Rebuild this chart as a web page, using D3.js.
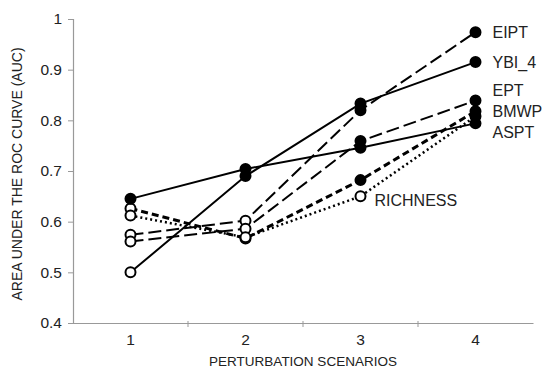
<!DOCTYPE html>
<html><head><meta charset="utf-8">
<script src="https://cdn.jsdelivr.net/npm/d3@7"></script>
<style>body{margin:0;background:#fff}</style>
</head><body><svg id="c" width="545" height="376"></svg>
<script>
const scenarios = ["1","2","3","4"];
const yTicks = [0.4,0.5,0.6,0.7,0.8,0.9,1];
const yTickLabels = ["0.4","0.5","0.6","0.7","0.8","0.9","1"];
const seriesNames = ["EIPT","YBI_4","EPT","BMWP","ASPT","RICHNESS"];
const EIPT     = [0.574,0.602,0.820,0.974];
const YBI_4    = [0.500,0.690,0.833,0.915];
const EPT      = [0.561,0.586,0.759,0.839];
const BMWP     = [0.626,0.567,0.682,0.818];
const ASPT     = [0.645,0.704,0.746,0.794];
const RICHNESS = [0.612,0.569,0.650,0.808];
// filled (1) or open (0) markers
const EIPT_f     = [0,0,1,1];
const YBI_4_f    = [0,1,1,1];
const EPT_f      = [0,0,1,1];
const BMWP_f     = [0,0,1,1];
const ASPT_f     = [1,1,1,1];
const RICHNESS_f = [0,0,0,1];

const values = [EIPT,YBI_4,EPT,BMWP,ASPT,RICHNESS];
const fills = [EIPT_f,YBI_4_f,EPT_f,BMWP_f,ASPT_f,RICHNESS_f];
const styles = [
  {dash:"13,5", w:2},
  {dash:null, w:2},
  {dash:"13,5", w:2},
  {dash:"7,4", w:3},
  {dash:null, w:2},
  {dash:"2,3", w:2.5}
];
const labelPos = [
  {s:0, anchorPt:3, dx:17, dy:0},
  {s:1, anchorPt:3, dx:17, dy:0},
  {s:2, anchorPt:3, dx:17, dy:-10},
  {s:3, anchorPt:3, dx:17, dy:0},
  {s:4, anchorPt:3, dx:17, dy:9},
  {s:5, anchorPt:2, dx:14, dy:4}
];

const svg = d3.select("#c");
const x = d3.scaleBand().domain(scenarios).range([73,533]);
const y = d3.scaleLinear().domain([0.4,1]).range([323,19]);
const cx = d => x(d)+x.bandwidth()/2;

// axes
const gy = svg.append("g").attr("transform","translate(73,0)")
  .call(d3.axisLeft(y).tickValues(yTicks).tickFormat((d,i)=>yTickLabels[i]).tickSize(5).tickPadding(6));
gy.select(".domain").attr("stroke","#999").attr("stroke-width",1.2);
gy.selectAll(".tick line").attr("stroke","#999");
gy.selectAll("text").attr("font-family","Liberation Sans, Arial, sans-serif").attr("font-size",15.5).attr("fill","#222");

const gx = svg.append("g").attr("transform","translate(0,323)")
  .call(d3.axisBottom(x).tickSize(0).tickPadding(11).tickSizeOuter(0));
gx.select(".domain").attr("stroke","#999").attr("stroke-width",1.2);
gx.selectAll("text").attr("font-family","Liberation Sans, Arial, sans-serif").attr("font-size",15.5).attr("fill","#222");
// boundary ticks between categories
svg.append("g").selectAll("line").data(scenarios.slice(1)).join("line")
  .attr("x1",d=>x(d)).attr("x2",d=>x(d)).attr("y1",321).attr("y2",327)
  .attr("stroke","#999").attr("stroke-width",1);

// titles
svg.append("text").attr("x",303).attr("y",366).attr("text-anchor","middle")
  .attr("font-family","Liberation Sans, Arial, sans-serif").attr("font-size",13.5).attr("fill","#222")
  .text("PERTURBATION SCENARIOS");
svg.append("text").attr("transform","translate(22,174) rotate(-90)").attr("text-anchor","middle")
  .attr("font-family","Liberation Sans, Arial, sans-serif").attr("font-size",14).attr("fill","#222")
  .text("AREA UNDER THE ROC CURVE (AUC)");

// lines
const line = d3.line().x((d,i)=>cx(scenarios[i])).y(d=>y(d));
values.forEach((v,k)=>{
  svg.append("path").attr("d",line(v)).attr("fill","none").attr("stroke","#000")
    .attr("stroke-width",styles[k].w).attr("stroke-dasharray",styles[k].dash);
});
values.forEach((v,k)=>{
  svg.append("g").selectAll("circle").data(v).join("circle")
    .attr("cx",(d,i)=>cx(scenarios[i])).attr("cy",d=>y(d)).attr("r",5)
    .attr("fill",(d,i)=>fills[k][i]?"#000":"#fff").attr("stroke","#000").attr("stroke-width",2);
});
// labels
labelPos.forEach(p=>{
  const v = values[p.s][p.anchorPt];
  svg.append("text").attr("x",cx(scenarios[p.anchorPt])+p.dx).attr("y",y(v)+p.dy).attr("dy","0.35em")
    .attr("font-family","Liberation Sans, Arial, sans-serif").attr("font-size",16).attr("fill","#222")
    .text(seriesNames[p.s]);
});
</script></body></html>
